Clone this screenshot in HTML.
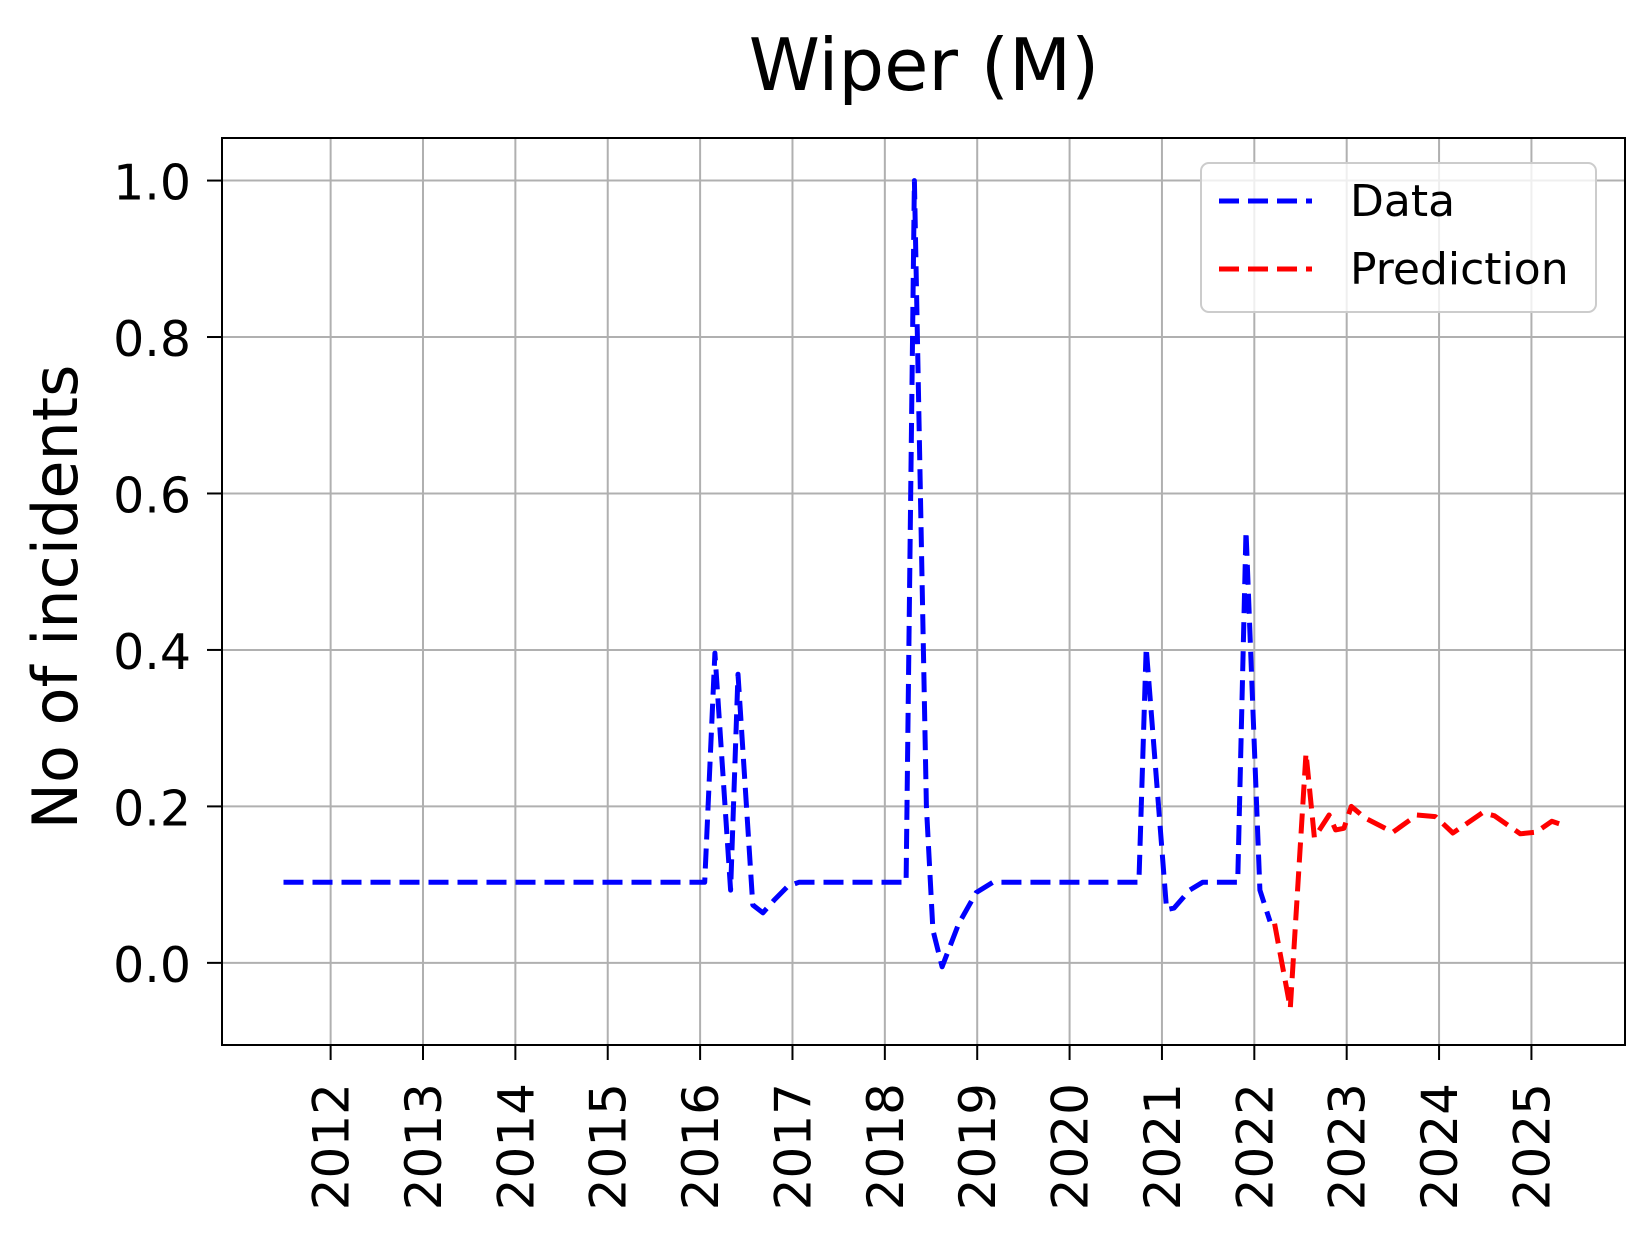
<!DOCTYPE html>
<html><head><meta charset="utf-8"><style>
html,body{margin:0;padding:0;background:#fff;}
svg{display:block;font-family:"DejaVu Sans","Liberation Sans",sans-serif;}
</style></head><body>
<svg id="chart" width="1647" height="1242" xmlns="http://www.w3.org/2000/svg">
<rect width="1647" height="1242" fill="#fff"/>
<text x="924" y="90" font-size="72" text-anchor="middle">Wiper (M)</text>
<g id="grid"></g>
<g id="series"></g>
<rect x="222" y="138" width="1403" height="907" fill="none" stroke="#000" stroke-width="2"/>
<g id="yticks"></g>
<g id="xticks"></g>
<text transform="translate(77,597) rotate(-90)" font-size="62" text-anchor="middle">No of incidents</text>
<g>
<rect x="1201" y="163" width="395" height="149" rx="8" fill="#fff" fill-opacity="0.8" stroke="#ccc" stroke-width="2"/>
<line x1="1219" y1="201" x2="1312" y2="201" stroke="#0000ff" stroke-width="5" stroke-dasharray="20 9"/>
<text x="1350" y="216" font-size="44">Data</text>
<line x1="1219" y1="269" x2="1312" y2="269" stroke="#ff0000" stroke-width="5" stroke-dasharray="20 9"/>
<text x="1350" y="284" font-size="44">Prediction</text>
</g>
</svg>
<script>
const dataYears=[2011.49,2016.05,2016.16,2016.33,2016.41,2016.57,2016.68,2016.8,2016.95,2017.07,2018.23,2018.32,2018.45,2018.52,2018.62,2018.8,2018.99,2019.17,2019.4,2020.75,2020.83,2021.05,2021.13,2021.3,2021.44,2021.82,2021.91,2022.06,2022.17];
const dataValues=[0.103,0.103,0.396,0.093,0.369,0.074,0.064,0.08,0.098,0.103,0.103,1.0,0.2,0.042,-0.005,0.05,0.09,0.103,0.103,0.103,0.403,0.068,0.07,0.093,0.103,0.103,0.552,0.093,0.053];
const predYears=[2022.22,2022.39,2022.56,2022.65,2022.81,2022.88,2022.97,2023.05,2023.2,2023.5,2023.76,2023.96,2024.15,2024.47,2024.6,2024.88,2025.05,2025.22,2025.32];
const predValues=[0.05,-0.058,0.268,0.16,0.189,0.17,0.172,0.2,0.185,0.167,0.189,0.187,0.166,0.192,0.188,0.165,0.167,0.181,0.177];
const yTicks=[0,0.2,0.4,0.6,0.8,1.0];
const yTickLabels=["0.0","0.2","0.4","0.6","0.8","1.0"];
const xTicks=[2012,2013,2014,2015,2016,2017,2018,2019,2020,2021,2022,2023,2024,2025];
const NS="http://www.w3.org/2000/svg";
const X0=222,X1=1625,Y0=138,Y1=1045,xmin=2010.824,xmax=2026.013,ymin=-0.105,ymax=1.0544;
function sx(v){return X0+(v-xmin)/(xmax-xmin)*(X1-X0);}
function sy(v){return Y1-(v-ymin)/(ymax-ymin)*(Y1-Y0);}
function mk(tag,attrs,parent){const e=document.createElementNS(NS,tag);for(const k in attrs)e.setAttribute(k,attrs[k]);parent.appendChild(e);return e;}
const grid=document.getElementById('grid'),yt=document.getElementById('yticks'),xt=document.getElementById('xticks'),ser=document.getElementById('series');
yTicks.forEach((v,i)=>{
  const g=mk('line',{x1:X0,x2:X1,y1:sy(v),y2:sy(v),stroke:'#b0b0b0','stroke-width':2},grid);
  
  
  const t=mk('line',{x1:X0-15,x2:X0,y1:sy(v),y2:sy(v),stroke:'#000','stroke-width':2},yt);
  
  
  const l=mk('text',{x:X0-31,y:sy(v)+19,'font-size':49,'text-anchor':'end'},yt);
  l.textContent=yTickLabels[i];
  
  
});
xTicks.forEach(v=>{
  const g=mk('line',{x1:sx(v),x2:sx(v),y1:Y0,y2:Y1,stroke:'#b0b0b0','stroke-width':2},grid);
  
  
  const t=mk('line',{x1:sx(v),x2:sx(v),y1:Y1,y2:Y1+15,stroke:'#000','stroke-width':2},xt);
  
  
  const l=mk('text',{transform:`translate(${sx(v)+18},${Y1+38}) rotate(-90)`,'font-size':50,'text-anchor':'end'},xt);
  l.textContent=String(v);
  
  
});
function line(xs,ys,color,name){
  const d=xs.map((x,i)=>(i?'L':'M')+sx(x).toFixed(1)+' '+sy(ys[i]).toFixed(1)).join(' ');
  const p=mk('path',{d:d,fill:'none',stroke:color,'stroke-width':5,'stroke-dasharray':'20 9','stroke-linejoin':'round'},ser);
  
  
}
line(dataYears,dataValues,'#0000ff','data-line');
line(predYears,predValues,'#ff0000','prediction-line');
</script>
</body></html>
